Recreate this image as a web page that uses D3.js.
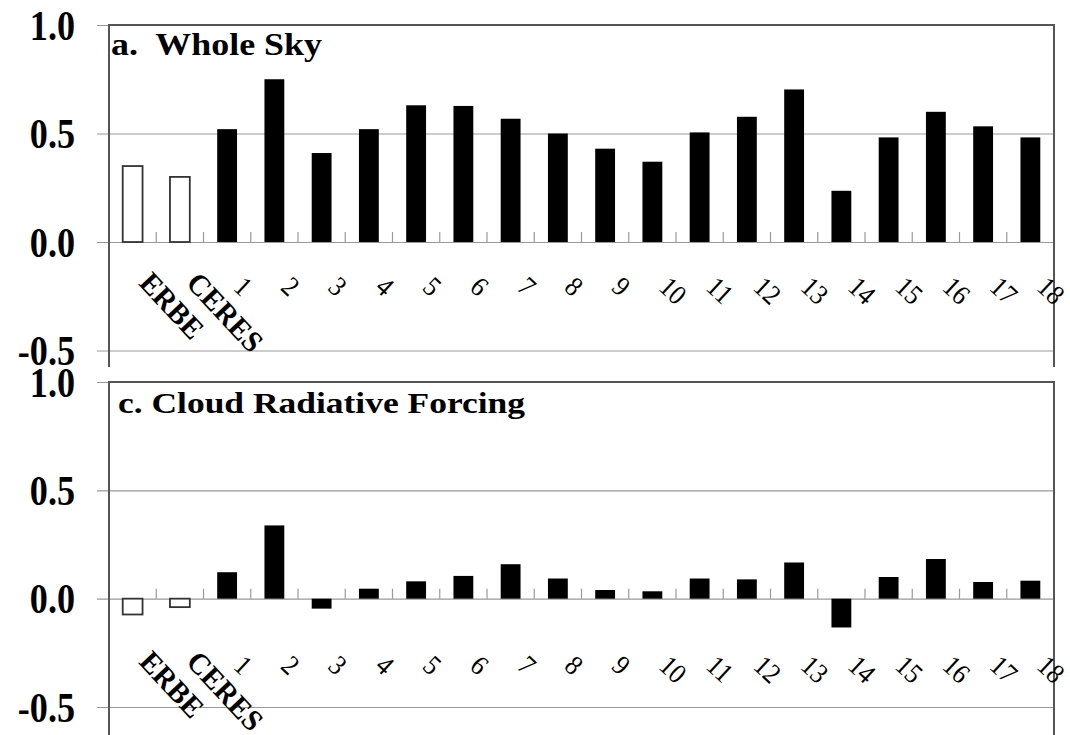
<!DOCTYPE html>
<html lang="en">
<head>
    <meta charset="UTF-8">
    <script src="https://d3js.org/d3.v7.min.js"></script>
    <style>
        body { margin: 0; background: #fff; }
        text { font-family: "Liberation Serif", "Times New Roman", Times, serif; }
    </style>
    <title>Whole Sky / Cloud Radiative Forcing</title>
</head>
<body>
    <script type="text/javascript">
    // категории и значения
    const categories = ["ERBE", "CERES", "1", "2", "3", "4", "5", "6", "7", "8", "9",
        "10", "11", "12", "13", "14", "15", "16", "17", "18"];
    const observed = ["ERBE", "CERES"];   // эти рисуются пустыми столбиками
    const wholeSky = [0.35, 0.30, 0.52, 0.75, 0.41, 0.52, 0.63, 0.627, 0.568, 0.50, 0.43,
        0.37, 0.505, 0.577, 0.703, 0.236, 0.482, 0.60, 0.533, 0.482];
    const cloudForcing = [-0.073, -0.039, 0.122, 0.338, -0.046, 0.046, 0.08, 0.105, 0.159,
        0.093, 0.04, 0.034, 0.093, 0.089, 0.167, -0.133, 0.10, 0.183, 0.077, 0.083];
    const yTicks = [-0.5, 0.0, 0.5, 1.0];

    const w = 1070;
    const h = 735;
    const left = 109, right = 1054;

    const svg = d3.select("body")
        .append("svg")
        .attr("width", w)
        .attr("height", h);

    const x = d3.scaleBand(categories, [left, right])
        .paddingInner(0.58)
        .paddingOuter(0.29);

    // в оригинале шрифт "сжатый" — узкий и высокий, поджимаем по ширине
    function squeeze(sel, k) {
        sel.each(function() {
            const len = this.getComputedTextLength();
            d3.select(this)
                .attr("textLength", len * k)
                .attr("lengthAdjust", "spacingAndGlyphs");
        });
    }

    // одна панель: заголовок, сетка, столбики, подписи
    function panel(opts) {
        const y = d3.scaleLinear([-0.5, 1.0], [opts.bottom, opts.top]);
        const g = svg.append("g");

        // сетка + подписи оси Y
        const axis = d3.axisLeft(y)
            .tickValues(yTicks)
            .tickFormat(function(d) { return d.toFixed(1); })   // обычный дефис, не "−"
            .tickSizeInner(-(right - 97))
            .tickSizeOuter(0)
            .tickPadding(22);
        const ax = g.append("g")
            .attr("transform", "translate(97,0)")
            .call(axis);
        ax.select(".domain").remove();
        ax.selectAll("line").attr("stroke", "#999").attr("stroke-width", 1.2);
        ax.selectAll("text")
            .attr("font-family", "Liberation Serif")
            .attr("font-size", 42)
            .attr("font-weight", "bold")
            .attr("fill", "#000")
            .attr("dy", "0.34em")
            .call(squeeze, 0.86);

        // рамка: верх, лево, право
        g.append("path")
            .attr("d", "M" + left + "," + opts.frameBottom + "V" + y(1.0) + "H" + right + "V" + opts.frameBottom)
            .attr("fill", "none")
            .attr("stroke", "#555")
            .attr("stroke-width", 2);

        // засечки между категориями на нулевой линии
        const step = x.step();
        g.selectAll("line.cat")
            .data(categories.slice(1))
            .enter()
            .append("line")
            .attr("class", "cat")
            .attr("x1", function(d) { return x(d) - (step - x.bandwidth()) / 2; })
            .attr("x2", function(d) { return x(d) - (step - x.bandwidth()) / 2; })
            .attr("y1", y(0))
            .attr("y2", y(0) - 10)
            .attr("stroke", "#999")
            .attr("stroke-width", 1.2);

        // столбики
        g.selectAll("rect")
            .data(opts.values)
            .enter()
            .append("rect")
            .attr("x", function(d, i) { return x(categories[i]); })
            .attr("width", x.bandwidth())
            .attr("y", function(d) { return y(Math.max(0, d)); })
            .attr("height", function(d) { return Math.abs(y(d) - y(0)); })
            .attr("fill", function(d, i) { return observed.includes(categories[i]) ? "#fff" : "#000"; })
            .attr("stroke", function(d, i) { return observed.includes(categories[i]) ? "#333" : "none"; })
            .attr("stroke-width", 1.8);

        // наклонные подписи категорий
        const ly = y(0) + opts.labelOffset;
        const cats = g.selectAll("text.cat")
            .data(categories)
            .enter()
            .append("text")
            .attr("class", "cat")
            .text(function(d) { return d; })
            .attr("transform", function(d) {
                const big = observed.includes(d);
                return "translate(" + (x(d) + x.bandwidth() / 2 + (big ? 5 : 5)) + "," + (ly + (big ? 0 : 5)) + ") rotate(" + (big ? 47 : 43) + ")";
            })
            .attr("font-size", function(d) { return observed.includes(d) ? 30 : 28; })
            .attr("font-weight", function(d) { return observed.includes(d) ? "bold" : "normal"; })
            .attr("fill", "#000");
        cats.filter(function(d) { return observed.includes(d); }).call(squeeze, 0.96);
        cats.filter(function(d) { return !observed.includes(d); }).call(squeeze, 0.9);

        // заголовок панели
        g.append("text")
            .text(opts.title)
            .attr("x", opts.titleX)
            .attr("y", opts.titleY)
            .attr("font-size", opts.titleSize)
            .attr("font-weight", "bold")
            .attr("textLength", opts.titleWidth)
            .attr("lengthAdjust", "spacingAndGlyphs")
            .style("white-space", "pre")
            .attr("fill", "#000");
    }

    panel({
        title: "a.  Whole Sky", titleX: 111, titleY: 55, titleSize: 32, titleWidth: 211,
        values: wholeSky, top: 25, bottom: 350.5, frameBottom: 367, labelOffset: 42
    });
    panel({
        title: "c. Cloud Radiative Forcing", titleX: 118, titleY: 413, titleSize: 30, titleWidth: 407,
        values: cloudForcing, top: 382, bottom: 707, frameBottom: 735, labelOffset: 64
    });
    </script>
</body>
</html>
